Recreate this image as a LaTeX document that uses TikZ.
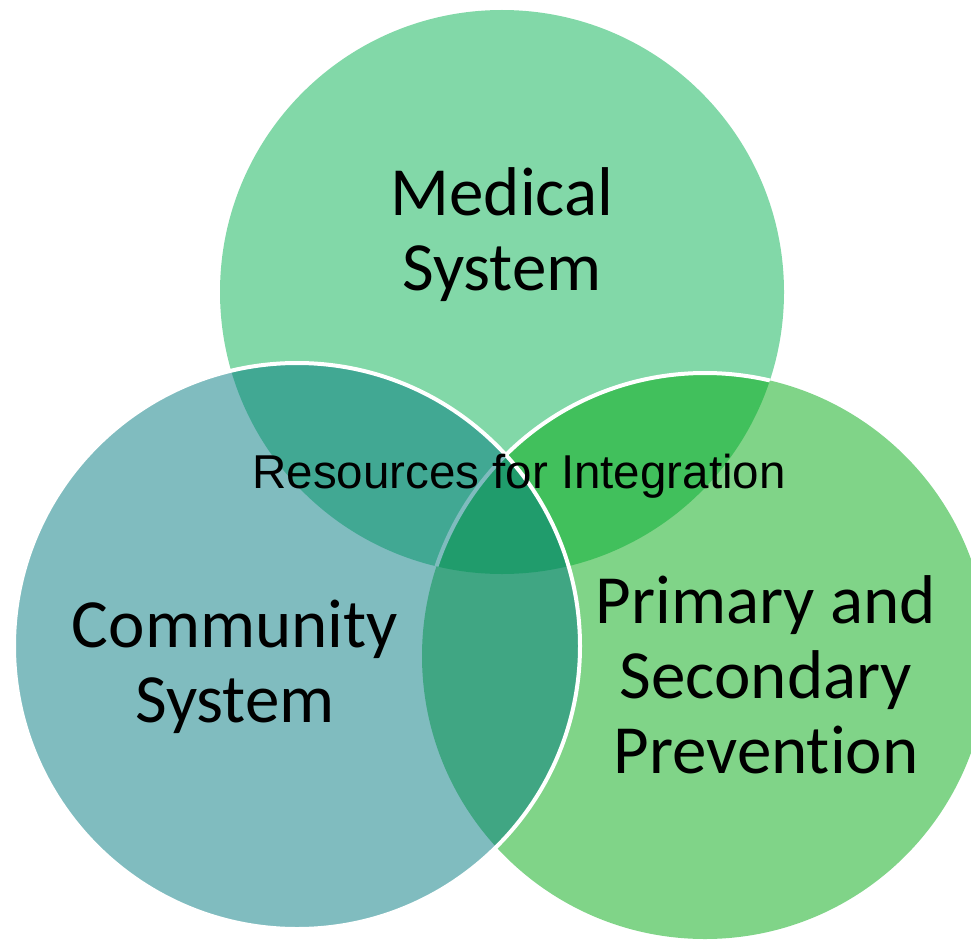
\documentclass[tikz,border=0pt]{standalone}
\usepackage{fontspec}
\newfontfamily\calfont[Ligatures=NoCommon]{Carlito}
\newfontfamily\arifont{Liberation Sans}
\definecolor{medc}{RGB}{5,177,81}
\definecolor{comc}{RGB}{1,121,127}
\definecolor{prvc}{RGB}{1,169,17}
\newcommand{\vennstack}[1]{\vtop{\baselineskip=75pt\lineskiplimit=-200pt\lineskip=0pt\halign{\hfil##\hfil\cr#1\cr}}}
\tikzset{
  venn/.style={fill opacity=0.5},
  vennedge/.style={draw=white, line width=4pt},
  biglabel/.style={font=\calfont\fontsize{69}{75}\selectfont, anchor=base, inner sep=0pt, text=black},
  midlabel/.style={font=\arifont\fontsize{47.5}{55}\selectfont, anchor=base, inner sep=0pt, text=black}
}
\begin{document}
\begin{tikzpicture}[x=1pt,y=-1pt]
\clip (0,0) rectangle (971,939);
\useasboundingbox (0,0) rectangle (971,939);
% circles
\fill[venn, medc] (502,292) circle (282);
\fill[venn, prvc] (705,656) circle (283);
\begin{scope}
  \clip (502,292) circle (282);
  \draw[vennedge] (705,656) circle (283);
\end{scope}
\filldraw[venn, fill=comc, vennedge] (297,646) circle (283);
% labels
\node[biglabel] (med) at (502,215) {\vennstack{Medical\cr System}};
\node[biglabel] (com) at (235,647) {\vennstack{Community\cr System}};
\node[biglabel] (prv) at (766,623) {\vennstack{Primary and\cr Secondary\cr Prevention}};
\node[midlabel] (res) at (519,488) {Resources for Integration};
\end{tikzpicture}
\end{document}
